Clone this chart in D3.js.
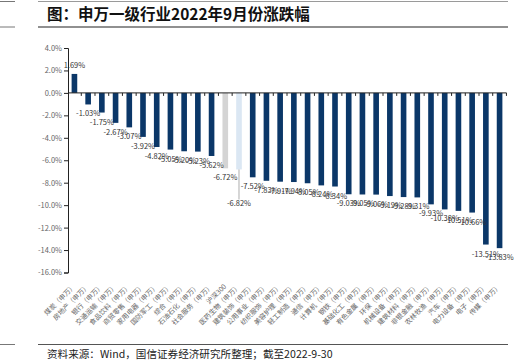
<!DOCTYPE html>
<html>
<head>
<meta charset="utf-8">
<title>申万一级行业2022年9月份涨跌幅</title>
<script src="https://cdn.jsdelivr.net/npm/d3@7"></script>
<style>
  body { margin: 0; background: #fff; }
  svg { display: block; font-family: "Noto Sans CJK SC", sans-serif; }
</style>
</head>
<body>
<div id="chart"></div>
<script>
// industries, Sep 2022 change (%)
var industries = ["煤炭", "房地产", "银行", "交通运输", "食品饮料", "商贸零售", "家用电器", "国防军工",
  "综合", "石油石化", "社会服务", "沪深300", "医药生物", "建筑装饰", "公用事业", "纺织服饰",
  "美容护理", "轻工制造", "通信", "计算机", "钢铁", "基础化工", "有色金属", "环保",
  "机械设备", "建筑材料", "非银金融", "农林牧渔", "汽车", "电力设备", "电子", "传媒"];
var changes = [1.69, -1.03, -1.75, -2.67, -3.07, -3.92, -4.82, -5.05,
  -5.20, -5.23, -5.62, -6.72, -6.82, -7.52, -7.83, -7.91,
  -7.94, -8.05, -8.24, -8.34, -9.03, -9.05, -9.06, -9.19,
  -9.28, -9.31, -9.93, -10.38, -10.51, -10.66, -13.51, -13.83];
var yTicks = [4, 2, 0, -2, -4, -6, -8, -10, -12, -14, -16];

var data = industries.map(function(d, i) { return { key: d, value: changes[i] }; });

var W = 517, H = 361;
var svg = d3.select("#chart").append("svg")
  .attr("width", W)
  .attr("height", H);

// page frame: rules, title, source
svg.append("line").attr("x1", 38).attr("x2", 508).attr("y1", 1.5).attr("y2", 1.5)
  .attr("stroke", "#9a9a9a").attr("stroke-width", 1);
svg.append("line").attr("x1", 38).attr("x2", 508).attr("y1", 27).attr("y2", 27)
  .attr("stroke", "#6b6b6b").attr("stroke-width", 1.5);
svg.append("line").attr("x1", 38).attr("x2", 508).attr("y1", 344.5).attr("y2", 344.5)
  .attr("stroke", "#555").attr("stroke-width", 1);
// bits of the neighbouring page on the left
[1.5, 27, 344.5].forEach(function(yy) {
  svg.append("line").attr("x1", 0).attr("x2", 15).attr("y1", yy).attr("y2", yy)
    .attr("stroke", "#777").attr("stroke-width", 1);
});

svg.append("text")
  .attr("x", 47).attr("y", 20)
  .attr("font-size", 15.5).attr("font-weight", "bold").attr("fill", "#111")
  .text("图：申万一级行业2022年9月份涨跌幅");

svg.append("text")
  .attr("x", 47).attr("y", 358)
  .attr("font-size", 10.6).attr("fill", "#222")
  .text("资料来源：Wind，国信证券经济研究所整理；截至2022-9-30");

// scales
var x = d3.scaleBand()
  .domain(industries)
  .range([67.5, 506.5])
  .paddingInner(0.59)
  .paddingOuter(0.3);

var y = d3.scaleLinear()
  .domain([-16, 4])
  .range([272.5, 48]);

var g = svg.append("g");

// y axis
var yAxis = g.append("g")
  .attr("transform", "translate(68,0)")
  .call(d3.axisLeft(y).tickValues(yTicks).tickSize(4).tickPadding(2)
    .tickFormat(function(d) { return d.toFixed(1) + "%"; }));
yAxis.select(".domain").attr("stroke", "#222");
yAxis.selectAll(".tick line").attr("stroke", "#222");
yAxis.selectAll("text").attr("font-size", 7.5).attr("fill", "#666")
  .attr("font-family", "Noto Sans CJK SC, sans-serif");

// bars
function barColor(d) {
  if (d.key === "沪深300") return "#d4d4d4";
  if (d.key === "医药生物") return "#dbe7f3";
  return "#0b3768";
}

g.selectAll("rect.bar")
  .data(data)
  .enter()
  .append("rect")
    .attr("class", "bar")
    .attr("x", function(d) { return x(d.key); })
    .attr("y", function(d) { return y(Math.max(0, d.value)); })
    .attr("width", x.bandwidth())
    .attr("height", function(d) { return Math.abs(y(d.value) - y(0)); })
    .attr("fill", barColor);

// x axis at zero, with small ticks between bars
g.append("line")
  .attr("x1", 68).attr("x2", 506.5)
  .attr("y1", y(0)).attr("y2", y(0))
  .attr("stroke", "#222");
g.selectAll("line.xtick")
  .data(industries)
  .enter()
  .append("line")
    .attr("class", "xtick")
    .attr("x1", function(d) { return x(d) + x.bandwidth() / 2 + x.step() / 2; })
    .attr("x2", function(d) { return x(d) + x.bandwidth() / 2 + x.step() / 2; })
    .attr("y1", y(0)).attr("y2", y(0) + 3)
    .attr("stroke", "#222");

// value labels (医药生物 pushed down with a leader line)
function labelY(d) {
  if (d.value >= 0) return y(d.value) - 6;
  if (d.key === "医药生物") return y(d.value) + 37;
  return y(d.value) + 12;
}
g.selectAll("line.leader")
  .data(data.filter(function(d) { return d.key === "医药生物"; }))
  .enter()
  .append("line")
    .attr("x1", function(d) { return x(d.key) + x.bandwidth() / 2; })
    .attr("x2", function(d) { return x(d.key) + x.bandwidth() / 2; })
    .attr("y1", function(d) { return y(d.value); })
    .attr("y2", function(d) { return labelY(d) - 7; })
    .attr("stroke", "#999").attr("stroke-width", 0.8);

g.selectAll("text.val")
  .data(data)
  .enter()
  .append("text")
    .attr("class", "val")
    .attr("x", function(d) { return x(d.key) + x.bandwidth() / 2; })
    .attr("y", labelY)
    .attr("text-anchor", "middle")
    .attr("font-size", 7.5)
    .attr("fill", "#333")
    .text(function(d) { return d.value.toFixed(2) + "%"; });

// category labels, rotated
g.selectAll("text.cat")
  .data(data)
  .enter()
  .append("text")
    .attr("class", "cat")
    .attr("transform", function(d) {
      return "translate(" + (x(d.key) + x.bandwidth() / 2 + 1.5) + ",287)rotate(-45)";
    })
    .attr("text-anchor", "end")
    .attr("font-size", 6.8)
    .attr("fill", "#666")
    .text(function(d) { return d.key === "沪深300" ? d.key : d.key + "（申万）"; });
</script>
</body>
</html>
